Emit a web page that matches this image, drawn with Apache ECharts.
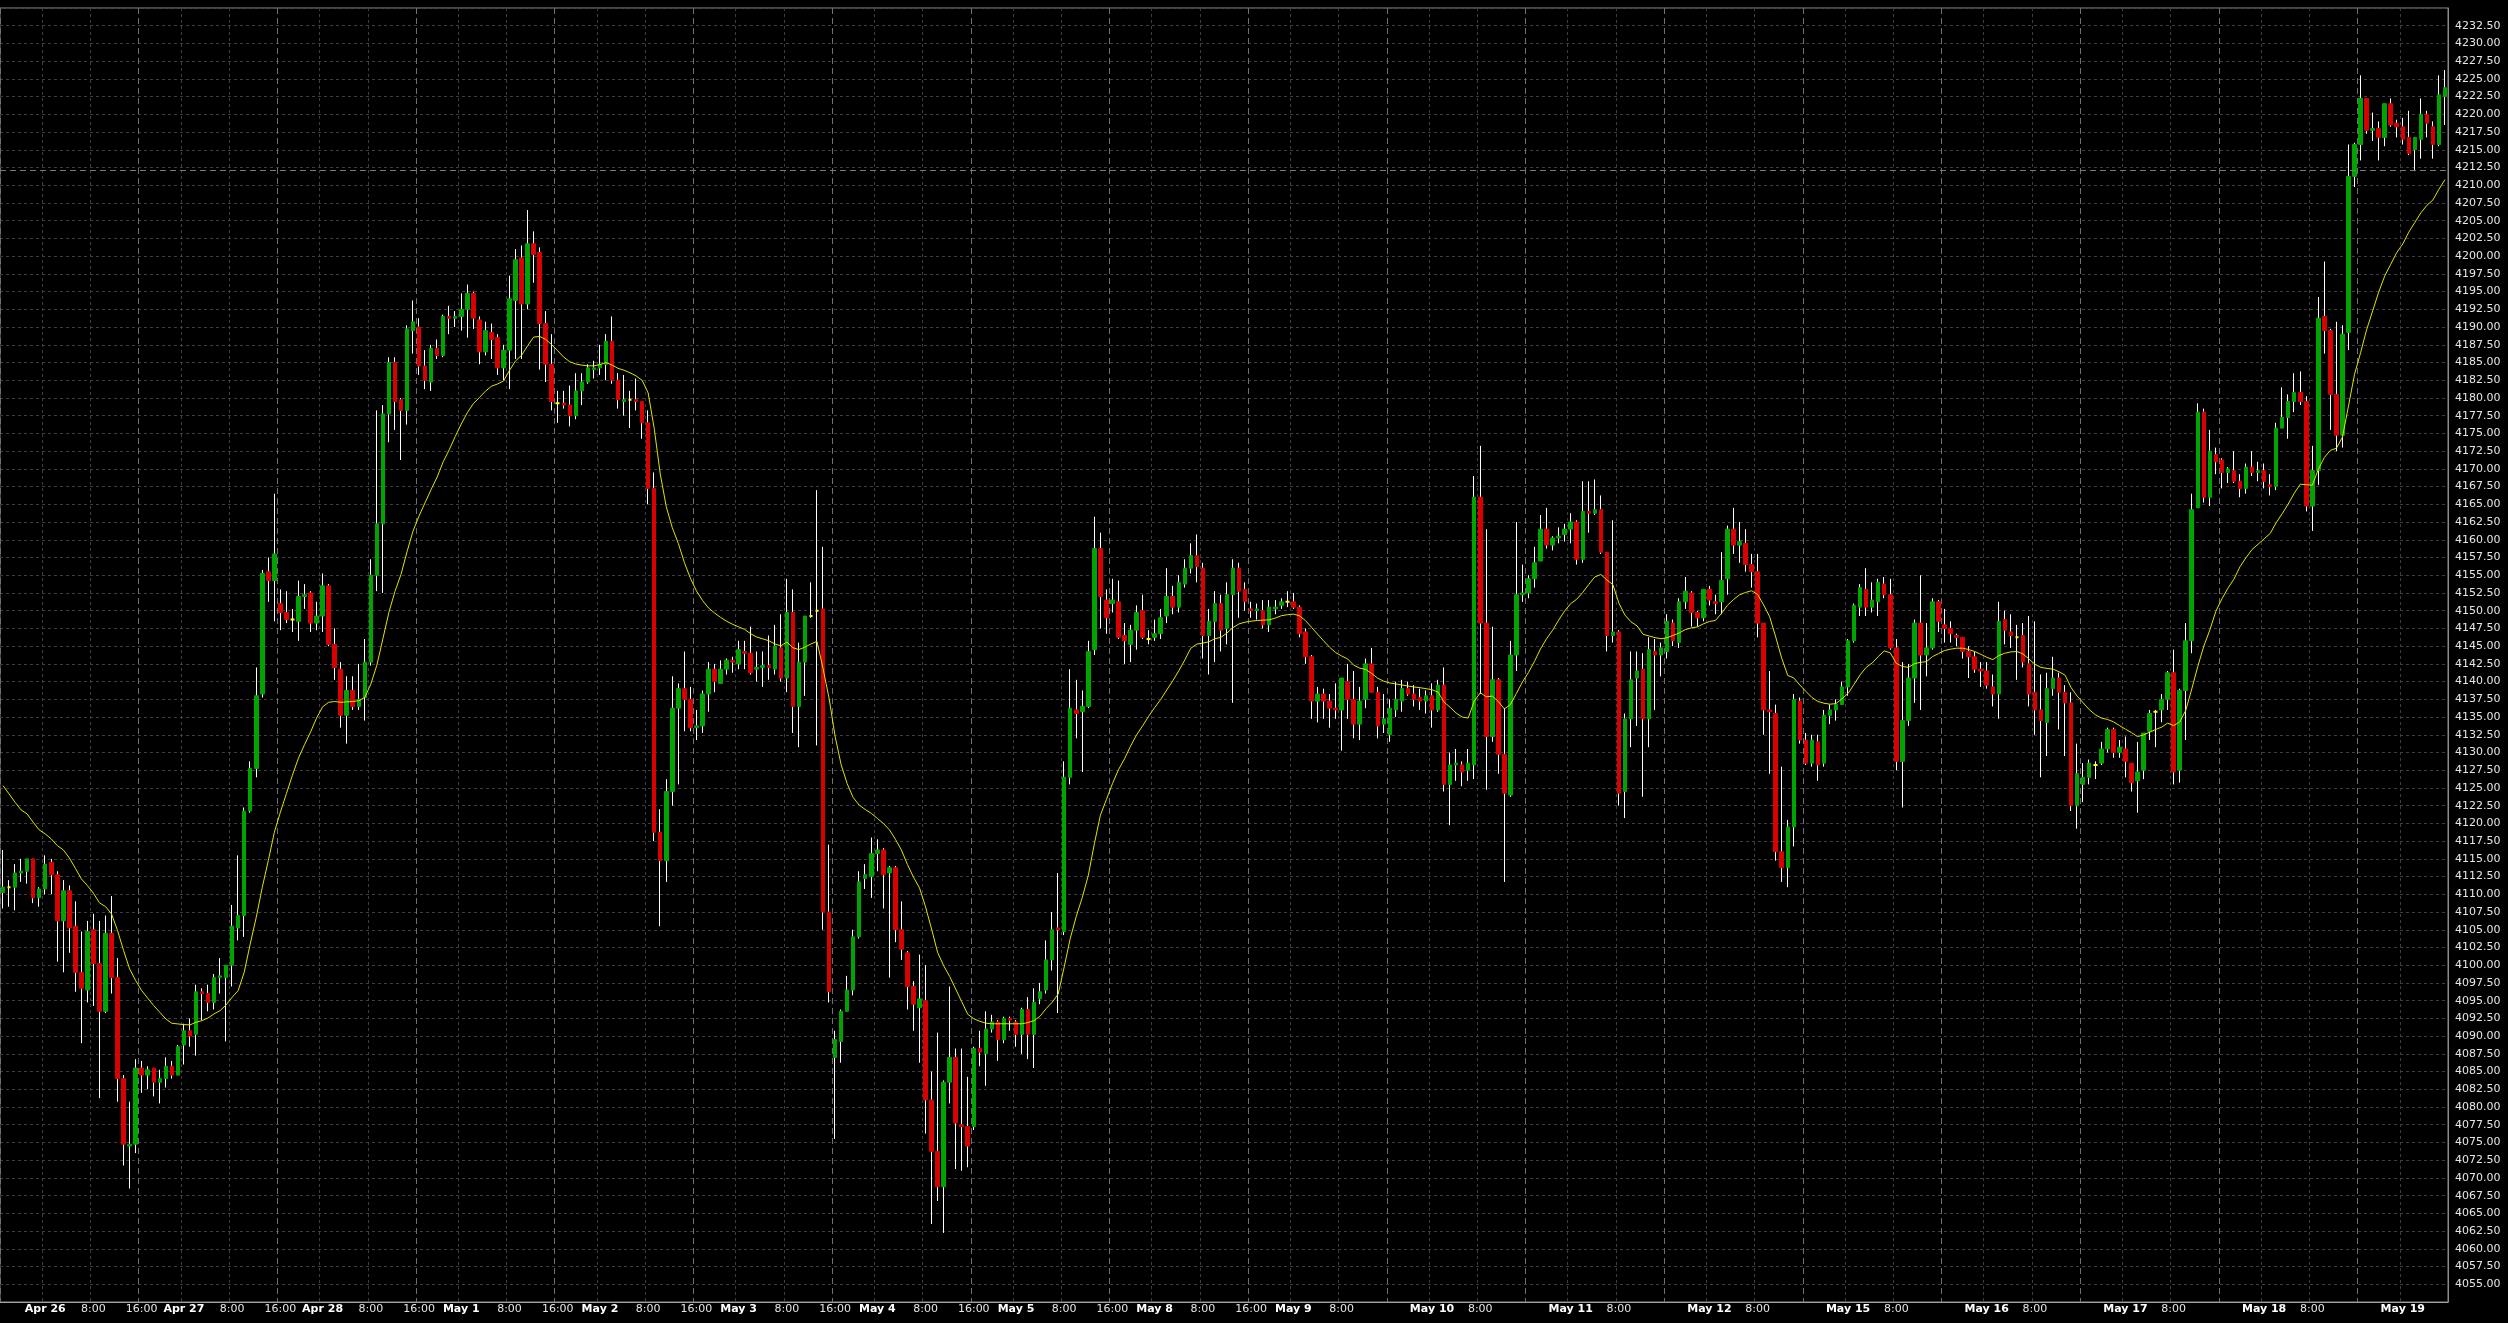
<!DOCTYPE html>
<html>
<head>
<meta charset="utf-8">
<script src="https://cdn.jsdelivr.net/npm/echarts/dist/echarts.min.js"></script>
<style>
html,body{margin:0;padding:0;background:#000;}
#chart{width:2508px;height:1323px;}
</style>
</head>
<body>
<div id="chart"></div>
<script>
// ---- axis / calendar data ----
const dayNames = ['Apr 25','Apr 26','Apr 27','Apr 28','May 1','May 2','May 3','May 4','May 5','May 8','May 9','May 10','May 11','May 12','May 15','May 16','May 17','May 18','May 19'];
const barsPerDay = 23;          // hourly bars per session
const leadBars = 7;             // bars of the first (partial) session before Apr 26
const leadFirstHour = 16;
const lastBarWith1600Label = 219;
const yMin = 4052.5, yMax = 4235, yStep = 2.5;
const refLineValue = 4212.1;

// ---- hourly candles: [open, close, low, high] ----
const candles = [
[4110.25,4111,4108,4116.25],[4111,4111,4108.25,4112],[4111,4113,4107.75,4114.25],[4113,4113.25,4111.75,4115],[4113.25,4115,4111.5,4115],
[4115,4109.5,4108.75,4115],[4109.5,4110.75,4108.25,4111],[4110.75,4114.25,4110,4115.5],[4114.5,4112.75,4110,4115],[4112.75,4106.25,4100.5,4113.25],
[4106.25,4110.5,4099,4112],[4110.5,4105.25,4101.75,4111.25],[4105.5,4099,4096.25,4109],[4099,4096.75,4089,4104.75],[4096.5,4104.75,4094.75,4106.25],
[4105,4100.25,4094.25,4107.25],[4100.25,4093.5,4081.25,4106.25],[4093.5,4104.5,4093.25,4107],[4104.5,4098.25,4096,4109.75],[4098.25,4084,4080.75,4101],
[4084,4074.75,4071.75,4084.5],[4074.5,4074.75,4068.5,4080.75],[4074.75,4085.5,4073.5,4086.75],[4085.5,4084.5,4082,4086.5],[4084.5,4085.25,4082.5,4085.75],
[4085.5,4083.5,4081.5,4085.5],[4083.5,4084,4080.5,4085.25],[4084,4085.75,4082.75,4087],[4085.75,4084.5,4084,4086.5],[4084.5,4088.5,4084.5,4088.75],
[4088.75,4090.75,4086,4091.75],[4090.75,4090,4088.5,4092.5],[4090.25,4096.25,4087.25,4097.25],[4096.25,4096,4092.25,4096.75],[4096,4094.75,4093.5,4097.25],
[4094.75,4098.25,4093.75,4098.75],[4098.25,4098.5,4096,4101],[4098.25,4100,4089.25,4100],[4100,4105.5,4097,4108.5],[4105.25,4107,4103.5,4115.5],
[4107,4121.75,4104,4122.25],[4121.75,4127.75,4121.5,4128.75],[4127.75,4138,4126.5,4142],[4138.25,4155.25,4137.75,4155.75],[4155.5,4154.25,4151.25,4157.5],
[4154.25,4158,4148.5,4166.5],[4151,4149.75,4147.25,4153],[4149.75,4148.75,4148.25,4152.75],[4148.75,4148.75,4147,4150.25],[4148.5,4152,4145.75,4154.25],
[4152,4152.25,4150.25,4153.75],[4152.5,4148.25,4147,4152.75],[4148.25,4149.25,4147.25,4151.25],[4149.25,4153.5,4147,4155.25],[4153.5,4145.25,4145,4153.75],
[4145.25,4142,4140.25,4147.5],[4141.75,4135.25,4133.5,4142.75],[4135.25,4138.75,4131.25,4140.75],[4138.75,4136.5,4136,4140.75],[4136.5,4137.5,4136,4142.5],
[4137.75,4142.75,4134.5,4146],[4142.75,4155,4142.25,4157.25],[4155,4162.25,4152.75,4178.25],[4162.25,4177.75,4152.5,4179],[4177.75,4185,4173.75,4185.75],
[4185,4179.5,4175.5,4185.75],[4179.75,4178.25,4171.25,4180],[4178.25,4189.75,4176.25,4190.25],[4189.5,4190.75,4186.25,4193.75],[4190,4184.5,4183.25,4191.25],
[4184.5,4182.5,4181.25,4186.75],[4182.25,4187,4181,4187.5],[4187,4186,4185.5,4188.25],[4186,4191.5,4185.75,4191.75],[4191.5,4191.25,4189,4193],
[4191.25,4191.5,4190,4192.25],[4191.5,4192.5,4189.5,4194.75],[4192.5,4194.75,4188.5,4196],[4194.75,4191.25,4189.75,4195],[4191,4186.5,4184.75,4191.5],
[4186.5,4189.5,4186,4190.75],[4189.25,4188.25,4185.5,4190.5],[4188.5,4184.25,4183.25,4189],[4184.25,4186.75,4182.5,4187.5],[4186.75,4194,4181.25,4197.25],
[4193.75,4199.5,4185.5,4201],[4199.75,4193.25,4185.5,4201.5],[4193.25,4201.75,4192.5,4206.5],[4201.75,4200.25,4196.25,4203.5],[4200.5,4190.5,4184,4201.25],
[4190.5,4184.75,4182.25,4192.25],[4184.75,4179.5,4178.25,4189],[4179.25,4179.25,4176.5,4181],[4179.25,4179,4178.5,4181],[4179,4177.5,4176,4181.75],
[4177.5,4181,4177,4183.5],[4181,4182.25,4179,4183.5],[4182.25,4184.25,4182,4184.75],[4184,4184.25,4182.75,4185.25],[4184.25,4184.75,4183.25,4187.5],
[4184.75,4188,4182.5,4189],[4188,4182.5,4182,4191.5],[4182.5,4179.75,4178.5,4183.5],[4179.5,4179.75,4177.5,4183.25],[4179.75,4179.75,4175.75,4181],
[4179.75,4179.5,4178.25,4182.75],[4179.5,4176.5,4174.25,4179.5],[4176.5,4167.25,4165,4178.25],[4167.25,4118.75,4117.5,4169.5],[4118.75,4114.75,4105.5,4122],
[4114.75,4124.5,4111.75,4126.25],[4124.5,4136.25,4122.5,4140.75],[4136.25,4139,4125.5,4139.75],[4139,4137.5,4133,4144.25],[4137.5,4133.5,4133,4139.25],
[4133.5,4133.75,4131.75,4136],[4133.75,4138.25,4132.75,4138.75],[4138.25,4141.75,4135.75,4142.75],[4141.75,4140,4138.5,4142.5],[4139.75,4141.75,4139.75,4143],
[4141.75,4143,4141,4143.25],[4143,4142.75,4141.25,4143.5],[4142.5,4144.5,4141.75,4145.75],[4144.25,4144,4141.75,4145.75],[4144,4141.25,4141,4147.75],
[4141.75,4142,4140,4144.25],[4142,4142.25,4139.25,4144.25],[4142.25,4142,4140.25,4146.5],[4141.75,4145,4141,4148],[4144.75,4140.5,4140,4149.5],
[4140.5,4149.75,4138.5,4154.5],[4149.75,4136.5,4132.75,4153],[4136.5,4142.75,4130.75,4145.5],[4142.75,4149.25,4138,4149.25],[4149.25,4149.25,4149,4154],
[4150,4150,4131,4167],[4150.25,4107.5,4105,4159],[4107.5,4096.25,4094.75,4117],[4087,4089.5,4075.5,4090.75],[4089.25,4093.5,4086.25,4093.75],
[4093.5,4096.5,4093.5,4098.5],[4096.5,4104,4095.75,4105],[4104,4111.75,4103.75,4113.25],[4112.25,4112.75,4110.75,4114.25],[4112.5,4115.75,4109.5,4118],
[4115.75,4116.25,4113.25,4117.75],[4116.25,4112.75,4108,4116.5],[4113,4113.75,4098.25,4114],[4113.75,4105,4103.25,4114],[4105,4102.25,4100.75,4109],
[4101.75,4097,4093.75,4102],[4097,4094.5,4090.75,4097.75],[4094,4095.25,4086.25,4101.5],[4095,4081,4076.25,4100],[4081,4073.75,4063.5,4085],
[4073.75,4068.75,4066.75,4090.5],[4068.75,4083.5,4062.25,4083.75],[4083.5,4087,4080.5,4097],[4087,4077.75,4071.25,4088.25],[4077.5,4077.25,4071,4088.25],
[4077.25,4074.5,4071.5,4084.25],[4077.25,4088.25,4076.75,4088.5],[4088.25,4087.75,4085.75,4090.75],[4087.5,4091,4083,4093.5],[4091,4092,4090.5,4093],
[4092,4089.5,4086.5,4092.25],[4089.5,4092.5,4089,4092.75],[4092.5,4092.25,4090.75,4092.75],[4092,4090.25,4088.5,4092.25],[4090.25,4093.75,4087.5,4094],
[4093.75,4090.25,4086.75,4095.5],[4090.25,4094.75,4085.5,4096.75],[4095.25,4096.25,4094.5,4097.5],[4096.5,4100.75,4096,4103.5],[4100.75,4105,4099.25,4107.5],
[4105.25,4105,4093.25,4113],[4104.75,4126.5,4104.25,4128.75],[4126.5,4136.25,4125.5,4141.75],[4136,4135.5,4132,4140.25],[4135.75,4136.5,4127.25,4138.75],
[4136.5,4144.25,4136.25,4145.75],[4144.5,4158.75,4143.75,4163.25],[4158.75,4152,4147.5,4161],[4151.5,4149,4146.75,4153],[4151,4151.5,4149.75,4154.5],
[4151.25,4146.25,4146,4154.25],[4146.5,4145.75,4142.5,4148.25],[4145.25,4147.25,4142.75,4148],[4147.25,4149.75,4144.5,4150.75],[4150,4146.25,4146,4152.25],
[4146,4146,4145.25,4147.25],[4146.25,4146.75,4145.75,4148.75],[4146.75,4149,4146,4150.25],[4149.25,4152,4148.25,4156],[4152,4150.5,4149.5,4153.5],
[4150.5,4154,4149.75,4155],[4153.75,4156,4153.25,4157.25],[4156,4157.75,4155.25,4159.5],[4157.75,4156.25,4154,4160.75],[4156,4146.5,4143.25,4156.75],
[4146.5,4148.5,4141,4150.25],[4148.5,4151,4142.75,4152.75],[4151,4147.25,4144.25,4152.25],[4147.5,4152.25,4145.25,4154],[4152.25,4156,4137,4157.25],
[4156,4152.75,4149,4156.75],[4153,4151.25,4150,4154],[4150.25,4150,4149,4151.25],[4150,4150.25,4148.75,4151],[4150,4148,4147.5,4151.5],
[4148,4150.5,4147,4151.5],[4150.25,4150.5,4149.5,4151.5],[4150.75,4151.25,4150.25,4151.75],[4151.25,4151.25,4150.5,4152.75],[4151.25,4150.5,4150.25,4152.5],
[4150.5,4146.75,4146.25,4150.75],[4147,4143.5,4142.5,4147.5],[4143.5,4137.25,4134.75,4143.75],[4137.25,4138.25,4134.25,4139.25],[4138.25,4137.25,4134.75,4139],
[4137.25,4136.25,4133.5,4138.25],[4136.25,4136,4134.75,4139.75],[4136,4140.5,4130.25,4140.5],[4140,4137.5,4134.75,4142.5],[4137.5,4134,4132,4141.5],
[4134,4137.25,4131.75,4139.25],[4137.5,4142.5,4136.25,4143.25],[4142.5,4138.5,4138.5,4144.75],[4138.5,4133.75,4132,4139.25],[4134,4134.75,4132.75,4138.25],
[4132.5,4136.25,4131.5,4137.5],[4136,4137.5,4135,4140],[4137.25,4139,4135.75,4140.25],[4139,4138.25,4138,4140],[4138.25,4137.5,4136.5,4139.5],
[4137.75,4137.25,4136,4139],[4137.25,4138,4135.5,4138.75],[4138,4136,4133.5,4139.75],[4136,4139.5,4135.75,4140.25],[4139.5,4125.5,4124.5,4142],
[4125.5,4128.25,4119.75,4130],[4128.25,4128.5,4126,4130.5],[4128.25,4127.25,4125.25,4128.75],[4127.5,4128.5,4126,4130.5],[4128.25,4166,4126.25,4169],
[4166,4148.25,4138.25,4173.25],[4148.25,4132.25,4124.75,4161.5],[4132.25,4140.25,4131.5,4147.75],[4140.25,4129.75,4127,4140.5],[4129.75,4124.25,4111.75,4136.25],
[4124,4143.75,4123.75,4145.75],[4143.75,4152.25,4141.5,4162.5],[4152.25,4152.5,4151.25,4156.5],[4152.5,4154.5,4151.75,4155],[4154.5,4156.75,4153.25,4159],
[4157,4161.5,4157,4163.5],[4161.5,4159.25,4158.75,4164.5],[4159.25,4160.25,4158.5,4160.5],[4160.25,4160.5,4159.5,4161.75],[4160.75,4161.5,4159.75,4162.25],
[4161.5,4162.5,4159.5,4163.75],[4162.5,4157.25,4156.5,4162.75],[4157.25,4164,4156.75,4168.25],[4164,4163.75,4161,4168.25],[4163.75,4164.25,4163.5,4168.5],
[4164.25,4158.25,4158,4166.25],[4158.25,4146.5,4144.25,4158.25],[4146.5,4147,4145.5,4162.75],[4147,4124.25,4122.5,4147.25],[4124.5,4134.75,4120.75,4135.5],
[4134.75,4140.25,4130.75,4144.25],[4140.5,4141.5,4133.75,4144.25],[4141.75,4134.75,4123.75,4144],[4134.75,4144.5,4130.75,4146.25],[4144.25,4143.75,4136,4146],
[4143.75,4144.75,4140.75,4145.5],[4144.25,4148.5,4143.25,4149.5],[4148.25,4145.75,4145,4148.75],[4145.5,4151.25,4144.75,4151.75],[4151.25,4152.75,4150.25,4154.75],
[4152.5,4149.75,4147.75,4152.75],[4149.75,4149,4147.75,4150],[4149,4153,4148.5,4153],[4153,4151.5,4150.75,4153.5],[4151.25,4151,4149.5,4152.25],
[4151.25,4154.25,4149.5,4158.25],[4154.5,4161.5,4152.25,4162],[4161.5,4159.25,4158,4164.5],[4159.25,4159.75,4156.75,4162.5],[4159.5,4156.5,4155.5,4161.5],
[4156.5,4155.5,4153.25,4158],[4155.5,4148.25,4146.25,4158],[4148.25,4136,4132.5,4148.25],[4136,4135.75,4127,4141.5],[4135.5,4116,4114.75,4136.75],
[4116,4113.75,4111.75,4128],[4113.75,4119.5,4111,4120.5],[4119.5,4137.5,4116.75,4138.25],[4137.25,4131.75,4131.25,4137.75],[4131.75,4128.5,4128.25,4132.75],
[4128.5,4131.75,4128,4132.5],[4131.5,4128.25,4126,4132.5],[4128.5,4135.25,4128,4136],[4135.25,4136,4134,4136.75],[4136,4136.75,4134.5,4137.5],
[4136.75,4139.25,4136.75,4140],[4139.25,4145.75,4138,4146],[4145.75,4150.75,4145.5,4151],[4150.5,4153.25,4149.25,4153.75],[4153,4150.5,4149.25,4156],
[4150.5,4151.5,4149.75,4154],[4151.25,4154,4149.25,4154.5],[4153.75,4152.25,4151.75,4154.75],[4152.25,4144.75,4144.5,4154.5],[4144.75,4128.75,4127.5,4146],
[4128.75,4134.5,4122.25,4142.75],[4134.5,4140.5,4133.75,4142.5],[4140.5,4148.25,4137,4148.75],[4148.25,4143.75,4136,4155],[4143.75,4144.75,4140.75,4148.25],
[4144.75,4151.25,4144.5,4151.75],[4151.25,4148.5,4147,4151.5],[4148,4147.5,4145.5,4150.25],[4147.5,4146.75,4145.5,4148.5],[4146.5,4146.25,4145,4146.75],
[4146.25,4144.25,4143.25,4146.25],[4144.25,4143.5,4140.5,4145],[4143.5,4141.75,4141.25,4144.25],[4141.75,4141.5,4139.25,4142.75],[4141.5,4139.5,4139,4142.75],
[4139.25,4138.25,4136.5,4141],[4138.25,4148.5,4134.75,4151.25],[4148.75,4147.25,4145.25,4150],[4147,4146.5,4144.75,4149.5],[4146.25,4146.25,4140.25,4148],
[4146.5,4142.75,4142,4148.25],[4142.5,4138.25,4136.5,4149.25],[4138.5,4136,4132.5,4148.5],[4136,4134.5,4126.5,4141],[4134.25,4139,4129.5,4141.25],
[4139,4140.5,4138,4143.5],[4140.5,4138.5,4133.25,4141.25],[4138.5,4137,4129.5,4139.5],[4137,4122.5,4121.75,4138.5],[4122.5,4127,4119.25,4131.25],
[4125.5,4126.5,4123,4128.5],[4126.5,4128.5,4125.5,4129],[4128.25,4128.25,4126.25,4128.75],[4128.5,4130.5,4128.25,4131.5],[4130.5,4133.25,4130,4133.5],
[4133.25,4130,4129.25,4133.5],[4130,4130.75,4129.25,4131.75],[4130.5,4128.75,4126.5,4132.25],[4128.5,4125.75,4124.5,4128.5],[4126,4127.25,4121.5,4131.5],
[4127.5,4132.75,4126.25,4132.75],[4133,4135.5,4131.75,4136],[4135.75,4135.75,4130.75,4136],[4136,4137.5,4134.25,4138.25],[4137.5,4141.25,4136,4141.5],
[4141.25,4127.25,4125.5,4144.5],[4127.5,4138.75,4125.75,4139],[4138.75,4145.75,4131.75,4148.25],[4145.75,4164.25,4144,4166.5],[4164.5,4178,4164.5,4179.25],
[4178,4166,4165.25,4178.5],[4166,4172.5,4164.75,4175.5],[4172,4171,4169.25,4173],[4171.25,4169.5,4167.25,4171.5],[4169.5,4170,4168,4170.25],
[4169.75,4168.25,4168,4172.5],[4168.25,4167.25,4166,4169.25],[4167.25,4170.25,4166.5,4170.75],[4170.25,4169.5,4169,4172.5],[4169.5,4169.75,4168.25,4171],
[4169.75,4168.25,4167.25,4170.75],[4167.75,4167.5,4166.25,4169.25],[4167.5,4175.75,4167,4176.5],[4175.75,4177.25,4175.75,4181.5],[4177.25,4179.5,4174.25,4180.5],
[4179.5,4180.75,4178,4183.5],[4180.75,4179.5,4179,4183.75],[4179.5,4164.75,4164,4180.25],[4164.75,4169.75,4161.25,4173.25],[4169.75,4191.25,4167.75,4194.25],
[4191.5,4189.5,4186.25,4199.25],[4189.5,4180.5,4175.5,4189.75],[4180.5,4174.75,4172.5,4190.75],[4174.75,4189,4173,4190.25],[4189.25,4211.25,4186.75,4215.75],
[4211.25,4215.75,4209.75,4216],[4215.75,4222.25,4213.5,4225.5],[4222.25,4217.75,4217.25,4222.25],[4217.75,4218,4216.25,4220.25],[4218,4216.75,4213.5,4219],
[4216.75,4221.5,4215.5,4221.5],[4221.5,4218.5,4218.25,4222.25],[4218.75,4218.25,4216.75,4219.25],[4218.25,4216.5,4215.75,4219.5],[4216.75,4214.5,4214.25,4220.5],
[4215,4216.75,4212,4216.75],[4216.5,4220,4213.75,4222.25],[4220,4218.75,4216.75,4220.5],[4218.25,4215.75,4213.75,4219],[4215.75,4222.75,4215.5,4225.5],
[4222.5,4223.75,4218.5,4226.25]
];

// ---- moving average line, read per bar ----
const maValues = [
4125.33,4124.16,4122.98,4121.9,4121.34,4120.16,4119.08,4118.52,4117.81,4116.87,
4116.26,4115.13,4113.67,4112.17,4111.23,4110.15,4108.79,4108.27,4107.23,4104.88,
4102.06,4099.48,4097.83,4096.42,4095.34,4094.3,4093.36,4092.42,4091.81,4091.72,
4091.62,4091.58,4091.95,4092.19,4092.56,4093.13,4093.6,4094.4,4095.48,4096.42,
4099.0,4103.0,4106.76,4111.0,4114.76,4118.75,4121.57,4124.2,4126.8,4129.2,
4131.1,4132.87,4134.85,4136.44,4137.08,4137.19,4137.08,4137.14,4137.19,4137.3,
4137.78,4139.64,4142.31,4146.04,4149.77,4152.7,4155.1,4158.3,4161.23,4163.36,
4165.23,4167.09,4168.85,4170.99,4172.69,4174.56,4176.32,4177.92,4179.2,4180.05,
4180.95,4181.65,4181.97,4182.39,4183.89,4185.22,4186.02,4187.35,4188.58,4188.68,
4188.26,4187.51,4186.66,4185.75,4185.11,4184.79,4184.63,4184.53,4184.53,4184.7,
4185.0,4184.65,4184.18,4183.91,4183.55,4183.11,4182.48,4180.7,4175.71,4169.29,
4164.66,4161.71,4159.49,4156.81,4154.58,4152.8,4151.46,4150.39,4149.68,4149.06,
4148.52,4148.08,4147.72,4147.36,4146.74,4146.29,4146.03,4145.76,4145.31,4145.04,
4145.58,4144.78,4144.51,4144.87,4145.31,4145.67,4141.84,4137.65,4132.3,4128.29,
4125.61,4123.65,4122.58,4121.96,4121.42,4120.71,4119.99,4119.1,4117.77,4116.25,
4114.2,4112.42,4110.9,4108.23,4105.11,4101.81,4099.94,4098.42,4096.64,4094.86,
4093.08,4092.45,4092.09,4091.82,4091.74,4091.74,4091.74,4091.74,4091.74,4091.74,
4091.91,4092.18,4092.81,4093.88,4094.77,4095.93,4099.76,4103.77,4106.89,4109.57,
4112.69,4117.14,4121.16,4123.38,4125.61,4127.57,4129.1,4130.9,4132.48,4133.76,
4135.1,4136.33,4137.48,4138.81,4140.1,4141.52,4143.05,4144.71,4145.29,4145.43,
4145.62,4146.05,4146.24,4146.86,4147.62,4148.14,4148.38,4148.52,4148.62,4148.67,
4148.71,4148.95,4149.29,4149.43,4149.52,4149.29,4148.62,4147.67,4146.71,4145.76,
4144.86,4144.1,4143.62,4143.19,4142.33,4141.9,4141.71,4141.14,4140.48,4140.05,
4139.81,4139.67,4139.52,4139.38,4139.24,4139.14,4139.0,4138.86,4138.52,4137.1,
4136.38,4135.57,4135.0,4134.86,4137.24,4138.43,4137.86,4137.95,4137.19,4136.14,
4136.76,4138.33,4139.95,4141.29,4142.86,4144.62,4146.05,4147.24,4148.67,4149.95,
4151.0,4151.62,4152.57,4153.71,4154.76,4155.1,4154.33,4153.67,4151.05,4149.38,
4148.43,4147.86,4146.67,4146.43,4146.2,4146.05,4146.19,4146.52,4146.86,4147.33,
4147.57,4147.71,4148.14,4148.48,4148.62,4149.62,4150.76,4151.57,4152.24,4152.57,
4152.81,4152.29,4150.81,4149.14,4146.29,4143.29,4140.86,4140.52,4139.52,4138.62,
4137.76,4137.19,4136.95,4136.81,4136.9,4137.57,4138.33,4139.62,4140.95,4142.0,
4142.62,4143.52,4144.33,4144.05,4142.57,4142.14,4142.0,4142.52,4142.71,4142.81,
4143.52,4143.95,4144.38,4144.57,4144.71,4144.71,4144.52,4144.24,4143.86,4143.43,
4143.1,4143.67,4144.0,4144.19,4144.24,4143.9,4143.19,4142.43,4142.0,4141.86,
4141.76,4141.38,4140.9,4139.14,4137.95,4137.0,4136.05,4135.33,4134.86,4134.67,
4134.33,4133.81,4133.29,4132.81,4132.24,4132.48,4132.86,4133.24,4133.57,4134.14,
4133.8,4134.3,4135.92,4138.95,4142.13,4145.0,4147.27,4149.92,4151.66,4153.17,
4154.45,4156.19,4157.48,4158.62,4159.37,4160.13,4160.88,4162.4,4163.68,4165.04,
4166.56,4167.84,4167.77,4167.69,4169.96,4171.62,4172.61,4172.91,4174.5,4178.88,
4183.35,4186.37,4189.62,4192.27,4194.92,4197.19,4198.85,4200.51,4201.72,4203.39,
4204.75,4206.11,4207.17,4207.93,4209.44,4210.8
];

// ---- build category axis (hourly bars) ----
function barDay(i){ return i < leadBars ? 0 : 1 + Math.floor((i - leadBars) / barsPerDay); }
function barHour(i){ return i < leadBars ? leadFirstHour + i : (i - leadBars) % barsPerDay; }
const categories = candles.map((_, i) => dayNames[barDay(i)] + ' ' + barHour(i) + ':00');

const UP = '#00a400', DOWN = '#d80000', DOJI = '#ffff00', WICK = '#ffffff', MA_COLOR = '#e2e200';

const wickData = candles.map(c => [c[0], c[1], c[2], c[3]]);
const bodyData = candles.map(c => {
  const v = [c[0], c[1], Math.min(c[0], c[1]), Math.max(c[0], c[1])];
  if (c[0] === c[1]) {
    return { value: v, itemStyle: { color: DOJI, color0: DOJI, borderColor: DOJI, borderColor0: DOJI, borderColorDoji: DOJI, borderWidth: 2 } };
  }
  return v;
});

const chart = echarts.init(document.getElementById('chart'), null, { renderer: 'canvas' });
const fontFamily = 'DejaVu Sans';

chart.setOption({
  animation: false,
  backgroundColor: '#000000',
  grid: {
    left: 0, right: 60, top: 8, bottom: 21,
    containLabel: false, outerBoundsMode: 'none',
    show: true, borderColor: '#8c8c8c', borderWidth: 1, backgroundColor: '#000000'
  },
  xAxis: [
    {
      type: 'category', data: categories, boundaryGap: true,
      axisLine: { show: true, lineStyle: { color: '#a0a0a0', width: 1 } },
      axisTick: { show: false },
      axisLabel: {
        show: true, margin: 2, fontFamily, fontSize: 11, color: '#e6e6e6',
        interval: (i) => {
          const h = barHour(i);
          if (i === 0) return false;
          return h === 0 || h === 8 || (h === 16 && i <= lastBarWith1600Label);
        },
        formatter: (val, i) => {
          const h = barHour(i);
          if (h === 0) return '{d|' + dayNames[barDay(i)] + '}';
          return h + ':00';
        },
        rich: { d: { fontFamily, fontSize: 11, fontWeight: 'bold', color: '#ffffff' } }
      },
      splitLine: {
        show: true,
        interval: (i) => { const h = barHour(i); return h === 0 || h === 8; },
        lineStyle: { color: '#3e3e3e', width: 1, type: [3, 3] }
      }
    },
    {
      type: 'category', data: categories, boundaryGap: true, position: 'top',
      axisLine: { show: false }, axisTick: { show: false }, axisLabel: { show: false },
      splitLine: {
        show: true,
        interval: (i) => barHour(i) === 16,
        lineStyle: { color: '#707070', width: 1, type: [6, 4] }
      }
    }
  ],
  yAxis: {
    type: 'value', position: 'right', scale: true,
    min: yMin, max: yMax, interval: yStep,
    axisLine: { show: true, lineStyle: { color: '#8c8c8c', width: 1 } },
    axisTick: { show: false },
    axisLabel: {
      show: true, margin: 7, fontFamily, fontSize: 11, color: '#e6e6e6',
      showMinLabel: false, showMaxLabel: false,
      formatter: (v) => v.toFixed(2)
    },
    splitLine: { show: true, lineStyle: { color: '#3e3e3e', width: 1, type: [3, 3] } }
  },
  series: [
    {
      name: 'wicks', type: 'candlestick', xAxisIndex: 0, data: wickData,
      barWidth: 1, silent: true,
      itemStyle: { color: WICK, color0: WICK, borderColor: WICK, borderColor0: WICK, borderColorDoji: WICK, borderWidth: 1 },
      z: 2
    },
    {
      name: 'bodies', type: 'candlestick', xAxisIndex: 0, data: bodyData,
      barWidth: 4, silent: true,
      itemStyle: { color: UP, color0: DOWN, borderColor: UP, borderColor0: DOWN, borderWidth: 1 },
      z: 3
    },
    {
      name: 'MA', type: 'line', xAxisIndex: 0, data: maValues,
      symbol: 'none', smooth: false, silent: true,
      lineStyle: { color: MA_COLOR, width: 1 },
      z: 4,
      markLine: {
        silent: true, symbol: ['none', 'none'], label: { show: false },
        lineStyle: { color: '#7a7a7a', width: 1, type: [6, 4] },
        data: [{ yAxis: refLineValue }]
      }
    }
  ]
});
</script>
</body>
</html>
